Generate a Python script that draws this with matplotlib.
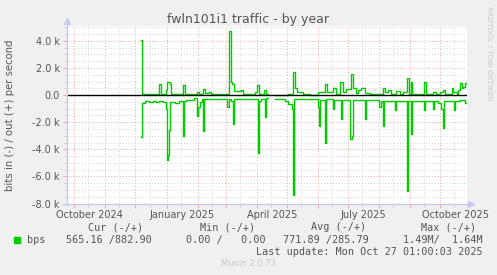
#!/usr/bin/env python

import numpy as np
import matplotlib
matplotlib.use('Agg')
from matplotlib import pyplot as plt
from matplotlib.lines import Line2D
import matplotlib.dates as mdates

# bits out (+), change points (value holds until next date)
out_dates = ['2024-12-07', '2024-12-08', '2024-12-24', '2024-12-26', '2024-12-31',
             '2025-01-01', '2025-01-03', '2025-01-04', '2025-01-05', '2025-01-17',
             '2025-01-19', '2025-01-31', '2025-02-02', '2025-02-06', '2025-02-08',
             '2025-02-12', '2025-02-14', '2025-03-04', '2025-03-06', '2025-03-07',
             '2025-03-09', '2025-03-16', '2025-03-18', '2025-03-30', '2025-04-01',
             '2025-04-03', '2025-04-08', '2025-04-10', '2025-04-12', '2025-04-19',
             '2025-05-02', '2025-05-07', '2025-05-09', '2025-05-11', '2025-05-17',
             '2025-05-24', '2025-06-01', '2025-06-08', '2025-06-10', '2025-06-16',
             '2025-06-19', '2025-06-23', '2025-06-26', '2025-06-29', '2025-07-04',
             '2025-07-06', '2025-07-09', '2025-07-11', '2025-07-14', '2025-07-18',
             '2025-07-23', '2025-08-05', '2025-08-07', '2025-08-10', '2025-08-13',
             '2025-08-18', '2025-08-22', '2025-08-25', '2025-08-29', '2025-08-31',
             '2025-09-02', '2025-09-03', '2025-09-15', '2025-09-17', '2025-09-24',
             '2025-09-27', '2025-10-01', '2025-10-04', '2025-10-06', '2025-10-13',
             '2025-10-14', '2025-10-18', '2025-10-19', '2025-10-21', '2025-10-23',
             '2025-10-24', '2025-10-26', '2025-10-27']
out_bps = [4040, 100, 850, 100, 400,
           1000, 950, 800, 100, 770,
           100, 200, 100, 450, 150,
           200, 100, 4760, 1000, 800,
           300, 400, 100, 200, 750,
           100, 400, 50, np.nan, 0,
           100, 1710, 500, 250, 100,
           0, 200, 800, 200, 500,
           100, 970, 250, 450, 1560,
           500, 150, 400, 500, 150,
           100, 500, 250, 350, 100,
           300, 100, 200, 1270, 100,
           970, 100, 970, 100, 250,
           100, 250, 400, 100, 500,
           250, 100, 400, 900, 500,
           600, 880, 880]

# bits in (-)
in_dates = ['2024-12-07', '2024-12-08', '2024-12-11', '2024-12-14', '2024-12-18',
            '2024-12-21', '2024-12-24', '2024-12-28', '2024-12-31', '2025-01-01',
            '2025-01-02', '2025-01-03', '2025-01-04', '2025-01-09', '2025-01-13',
            '2025-01-17', '2025-01-18', '2025-01-20', '2025-01-28', '2025-01-31',
            '2025-02-01', '2025-02-03', '2025-02-05', '2025-02-06', '2025-02-07',
            '2025-03-02', '2025-03-04', '2025-03-06', '2025-03-08', '2025-03-09',
            '2025-04-02', '2025-04-03', '2025-04-05', '2025-04-09', '2025-04-10',
            '2025-04-12', '2025-04-19', '2025-04-29', '2025-05-02', '2025-05-06',
            '2025-05-07', '2025-05-08', '2025-06-01', '2025-06-02', '2025-06-03',
            '2025-06-08', '2025-06-09', '2025-06-16', '2025-06-17', '2025-06-24',
            '2025-06-25', '2025-07-03', '2025-07-05', '2025-07-06', '2025-07-18',
            '2025-07-19', '2025-08-01', '2025-08-03', '2025-08-05', '2025-08-06',
            '2025-08-17', '2025-08-18', '2025-08-29', '2025-08-30', '2025-09-02',
            '2025-09-03', '2025-09-15', '2025-09-16', '2025-09-24', '2025-09-25',
            '2025-09-29', '2025-10-02', '2025-10-04', '2025-10-05', '2025-10-15',
            '2025-10-16', '2025-10-21', '2025-10-26', '2025-10-27']
in_bps = [3090, 580, 450, 520, 420,
          520, 420, 520, 1000, 4760,
          4400, 2600, 500, 550, 450,
          3040, 400, 350, 200, 1560,
          900, 500, 300, 2670, 300,
          900, 300, 450, 2100, 300,
          4270, 450, 300, 1600, 250,
          np.nan, 300, 450, 650, 1000,
          7400, 300, 900, 2300, 350,
          3500, 300, 1000, 350, 1760,
          350, 3230, 3000, 350, 1760,
          350, 900, 450, 2250, 400,
          1100, 400, 7100, 400, 2900,
          400, 1100, 400, 1000, 400,
          600, 1000, 2400, 400, 1100,
          400, 350, 570, 570]

y_ticks = [-8000, -6000, -4000, -2000, 0, 2000, 4000]
y_labels = ['-8.0 k', '-6.0 k', '-4.0 k', '-2.0 k', '0.0', '2.0 k', '4.0 k']
x_label_dates = ['2024-10-16', '2025-01-16', '2025-04-16', '2025-07-16', '2025-10-16']
x_labels = ['October 2024', 'January 2025', 'April 2025', 'July 2025', 'October 2025']

legend_head = ['Cur (-/+)', 'Min (-/+)', 'Avg (-/+)', 'Max (-/+)']
legend_vals = ['565.16 /882.90', '0.00 /   0.00', '771.89 /285.79', '1.49M/  1.64M']

W, H = 497, 275
bg = '#f0f0f0'
green = '#00cc00'
txt = '#555555'
axcol = '#c8c8f0'

def fx(px):
    return px / W

def fy(py):
    return 1 - py / H

fig = plt.figure(figsize=(W / 100, H / 100), dpi=100, facecolor=bg)
ax = fig.add_axes([fx(66.7), fy(203.5), (467.3 - 66.7) / W, (203.5 - 26) / H])
ax.set_facecolor('white')

od = np.array(out_dates, dtype='datetime64[D]')
idd = np.array(in_dates, dtype='datetime64[D]')
ax.plot(od, np.array(out_bps, dtype=float), color=green, lw=1, drawstyle='steps-post', zorder=4)
ax.plot(idd, -np.array(in_bps, dtype=float), color=green, lw=1, drawstyle='steps-post', zorder=4)
ax.axhline(0, color='black', lw=1, zorder=5)

ax.set_xlim(np.datetime64('2024-09-23T10'), np.datetime64('2025-10-27T22'))
ax.set_ylim(-8000, 5100)

# grid
ax.set_yticks(y_ticks)
ax.set_yticklabels(y_labels)
ax.set_yticks(np.arange(-8000, 5001, 500), minor=True)
ax.xaxis.set_major_locator(mdates.MonthLocator(bymonthday=1))
ax.xaxis.set_minor_locator(mdates.MonthLocator(bymonthday=15))
ax.xaxis.set_major_formatter(plt.NullFormatter())
ax.grid(True, which='minor', color='#d4d4d4', lw=0.7, linestyle=(0, (1, 2)), zorder=1)
ax.grid(True, which='major', color='#f0a8a8', lw=0.7, linestyle=(0, (1, 2)), zorder=2)
ax.set_axisbelow(True)

ax.tick_params(axis='y', which='major', length=3, width=0.7, color='#f0a8a8',
               labelsize=7, labelcolor=txt, pad=2)
ax.tick_params(axis='y', which='minor', length=2, width=0.6, color='#c8c8c8')
ax.tick_params(axis='x', which='major', length=3, width=0.7, color='#f0a8a8')
ax.tick_params(axis='x', which='minor', length=2, width=0.6, color='#c8c8c8')

for s in ax.spines.values():
    s.set_visible(False)

for d, lab in zip(x_label_dates, x_labels):
    ax.text(np.datetime64(d), -0.035, lab, transform=ax.get_xaxis_transform(),
            ha='center', va='top', fontsize=7, color=txt)

# axis lines with arrows
fig.add_artist(Line2D([fx(66.7), fx(66.7)], [fy(205), fy(22)], color=axcol, lw=1))
fig.add_artist(Line2D([fx(66.7)], [fy(21)], marker='^', ms=5, color=axcol, mec=axcol))
fig.add_artist(Line2D([fx(63), fx(470)], [fy(203.5), fy(203.5)], color=axcol, lw=1))
fig.add_artist(Line2D([fx(471)], [fy(203.5)], marker='>', ms=5, color=axcol, mec=axcol))

fig.text(fx(248), fy(19), 'fwln101i1 traffic - by year', ha='center', va='center',
         fontsize=9, color=txt)
fig.text(fx(10), fy(115), 'bits in (-) / out (+) per second', rotation=90,
         ha='center', va='center', fontsize=7.3, color=txt)
fig.text(fx(489), fy(6), 'RRDTOOL / TOBI OETIKER', rotation=270, ha='center', va='top',
         fontsize=5.3, color='#c8c8c8')

# legend block
mono = 'DejaVu Sans Mono'
for cx, h in zip([116, 228, 339, 449], legend_head):
    fig.text(fx(cx), fy(227.5), h, ha='center', va='center', family=mono, fontsize=7.3, color=txt)
fig.add_artist(Line2D([fx(17)], [fy(240)], marker='s', ms=5, color=green, mec=green))
fig.text(fx(27), fy(240), 'bps', ha='left', va='center', family=mono, fontsize=7.3, color=txt)
for lx, v in zip([66, 186, 283, 403], legend_vals):
    fig.text(fx(lx), fy(240), v, ha='left', va='center', family=mono, fontsize=7.3, color=txt)
fig.text(fx(483), fy(252), 'Last update: Mon Oct 27 01:00:03 2025', ha='right', va='center',
         family=mono, fontsize=7.3, color=txt)
fig.text(fx(248), fy(263.5), 'Munin 2.0.73', ha='center', va='center', fontsize=6,
         color='#c8c8c8')

plt.savefig('out.png', dpi=100, facecolor=bg)
plt.close()
